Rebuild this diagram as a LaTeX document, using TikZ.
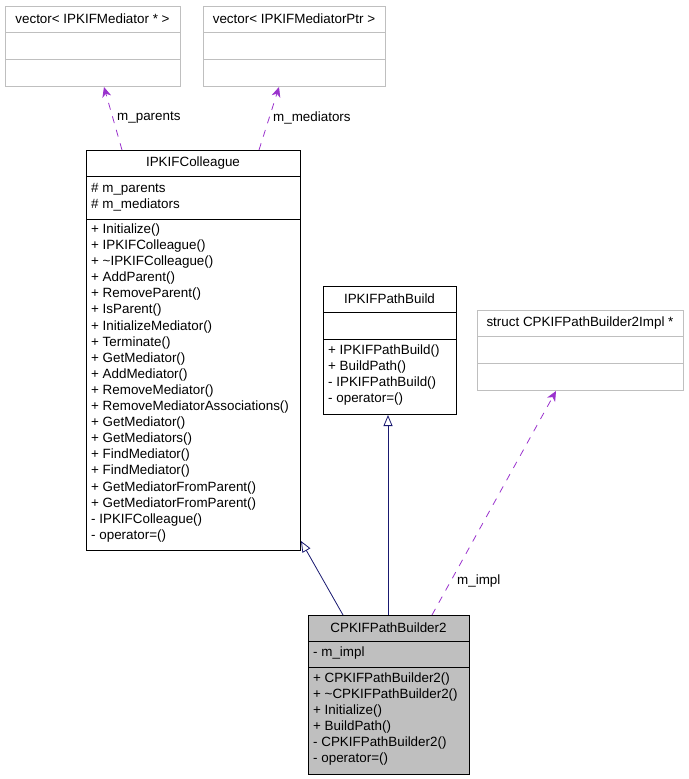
\documentclass[tikz,border=0pt]{standalone}
\usepackage{fontspec}
\setmainfont{Liberation Sans}
\usetikzlibrary{arrows.meta,calc}
\definecolor{edgeblue}{HTML}{191970}
\definecolor{purp}{HTML}{9A32CD}
\definecolor{lgray}{HTML}{BFBFBF}
\definecolor{fillgray}{HTML}{BFBFBF}
\begin{document}
\begin{tikzpicture}[x=1pt,y=-1pt,
  box/.style={draw=black, line width=0.8pt, anchor=north west, inner sep=0pt, outer sep=0pt},
  gbox/.style={box, draw=lgray},
  txt/.style={anchor=west, inner sep=0pt, font=\fontsize{13.4}{15}\selectfont},
  ctxt/.style={anchor=center, inner sep=0pt, font=\fontsize{13.4}{15}\selectfont},
  assoc/.style={draw=purp, line width=0.8pt, dash pattern=on 7pt off 7pt, -{Stealth[length=10pt,width=9pt,inset=3pt]}},
  inherit/.style={draw=edgeblue, line width=0.8pt, -{Triangle[open,length=11pt,width=9pt]}}
]
\useasboundingbox (0,0) rectangle (688,779);

% vector< IPKIFMediator * >
\node[gbox, minimum width=175pt, minimum height=80pt] (va) at (5,6) {};
\draw[lgray, line width=0.8pt] ($(va.north west)+(0,26)$) -- ++(175,0);
\draw[lgray, line width=0.8pt] ($(va.north west)+(0,53)$) -- ++(175,0);
\node[ctxt] (vat) at ($(va.north)+(0,13)$) {vector< IPKIFMediator * >};

% vector< IPKIFMediatorPtr >
\node[gbox, minimum width=182pt, minimum height=80pt] (vb) at (203,6) {};
\draw[lgray, line width=0.8pt] ($(vb.north west)+(0,26)$) -- ++(182,0);
\draw[lgray, line width=0.8pt] ($(vb.north west)+(0,53)$) -- ++(182,0);
\node[ctxt] (vbt) at ($(vb.north)+(0,13)$) {vector< IPKIFMediatorPtr >};

% IPKIFColleague
\node[box, minimum width=214pt, minimum height=400pt] (col) at (86,150) {};
\draw[line width=0.8pt] ($(col.north west)+(0,26)$) -- ++(214,0);
\draw[line width=0.8pt] ($(col.north west)+(0,69)$) -- ++(214,0);
\node[ctxt] (colt) at ($(col.north)+(0,13)$) {IPKIFColleague};
\node[txt] (cola1) at (91,189) {\# m\_parents};
\node[txt] (cola2) at (91,205) {\# m\_mediators};
\foreach \t [count=\i from 0] in {%
  + Initialize(),
  + IPKIFColleague(),
  + \textasciitilde IPKIFColleague(),
  + AddParent(),
  + RemoveParent(),
  + IsParent(),
  + InitializeMediator(),
  + Terminate(),
  + GetMediator(),
  + AddMediator(),
  + RemoveMediator(),
  + RemoveMediatorAssociations(),
  + GetMediator(),
  + GetMediators(),
  + FindMediator(),
  + FindMediator(),
  + GetMediatorFromParent(),
  + GetMediatorFromParent(),
  - IPKIFColleague(),
  - operator=()}
  \node[txt] (colm\i) at (91,{230+16.1*\i}) {\t};

% IPKIFPathBuild
\node[box, minimum width=133pt, minimum height=128pt] (pb) at (323,286) {};
\draw[line width=0.8pt] ($(pb.north west)+(0,26)$) -- ++(133,0);
\draw[line width=0.8pt] ($(pb.north west)+(0,53)$) -- ++(133,0);
\node[ctxt] (pbt) at ($(pb.north)+(0,13)$) {IPKIFPathBuild};
\foreach \t [count=\i from 0] in {%
  + IPKIFPathBuild(),
  + BuildPath(),
  - IPKIFPathBuild(),
  - operator=()}
  \node[txt] (pbm\i) at (328,{351+16*\i}) {\t};

% struct CPKIFPathBuilder2Impl *
\node[gbox, minimum width=206pt, minimum height=80pt] (st) at (477,310) {};
\draw[lgray, line width=0.8pt] ($(st.north west)+(0,26)$) -- ++(206,0);
\draw[lgray, line width=0.8pt] ($(st.north west)+(0,53)$) -- ++(206,0);
\node[ctxt] (stt) at ($(st.north)+(0,13)$) {struct CPKIFPathBuilder2Impl *};

% CPKIFPathBuilder2
\node[box, fill=fillgray, minimum width=161pt, minimum height=159pt] (cp) at (308,615) {};
\draw[line width=0.8pt] ($(cp.north west)+(0,26)$) -- ++(161,0);
\draw[line width=0.8pt] ($(cp.north west)+(0,52)$) -- ++(161,0);
\node[ctxt] (cpt) at ($(cp.north)+(0,13)$) {CPKIFPathBuilder2};
\node[txt] (cpa1) at (313,653) {- m\_impl};
\foreach \t [count=\i from 0] in {%
  + CPKIFPathBuilder2(),
  + \textasciitilde CPKIFPathBuilder2(),
  + Initialize(),
  + BuildPath(),
  - CPKIFPathBuilder2(),
  - operator=()}
  \node[txt] (cpm\i) at (313,{679+16*\i}) {\t};

% connectors
\draw[assoc] ($(col.north west)+(36,0)$) -- ($(va.south west)+(99,1)$);
\node[txt] (lp) at (117,118) {m\_parents};
\draw[assoc] ($(col.north west)+(173,0)$) -- ($(vb.south west)+(76,1)$);
\node[txt] (lm) at (273,118) {m\_mediators};

\draw[inherit] ($(cp.north west)+(35,0)$) -- ($(col.south east)+(1,-9)$);
\draw[inherit] ($(cp.north west)+(80,0)$) -- ($(pb.south west)+(65,1)$);

\draw[assoc] ($(cp.north west)+(124,0)$) -- ($(st.south west)+(79,1)$);
\node[txt] (li) at (457,581) {m\_impl};
\end{tikzpicture}
\end{document}
